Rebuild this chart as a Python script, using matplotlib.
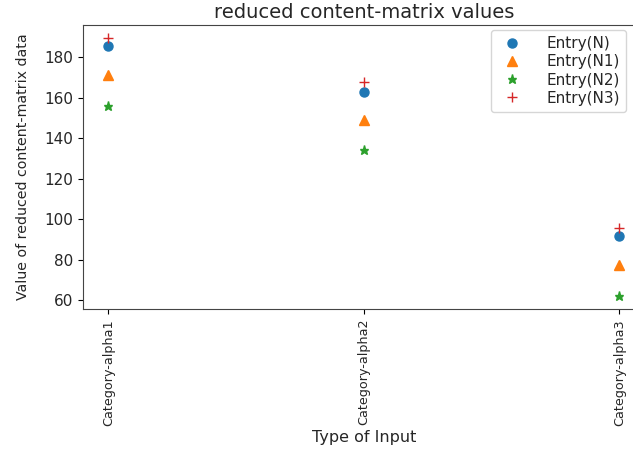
import matplotlib
matplotlib.use("Agg")
import matplotlib.pyplot as plt

categories = ["Category-alpha1", "Category-alpha2", "Category-alpha3"]
entry_n = [185.4, 162.7, 91.6]
entry_n1 = [171.0, 149.0, 77.3]
entry_n2 = [156.0, 134.0, 62.0]
entry_n3 = [189.4, 167.6, 95.6]

series = [
    ("Entry(N)", entry_n, "o"),
    ("Entry(N1)", entry_n1, "^"),
    ("Entry(N2)", entry_n2, "*"),
    ("Entry(N3)", entry_n3, "+"),
]

plt.rcParams["text.color"] = "#262626"
plt.rcParams["axes.labelcolor"] = "#262626"
plt.rcParams["xtick.labelcolor"] = "#262626"
plt.rcParams["ytick.labelcolor"] = "#262626"

fig = plt.figure(figsize=(6.33, 4.54), dpi=100)
ax = fig.add_axes([0.131, 0.319, 0.888, 0.626])

for label, values, marker in series:
    ax.plot(categories, values, linestyle="none", marker=marker,
            markersize=6.5, label=label)

for spine in ax.spines.values():
    spine.set_color("#444444")

ax.set_title("reduced content-matrix values", fontsize=14, pad=5)
ax.set_xlabel("Type of Input", fontsize=11.5, labelpad=3)
ax.set_ylabel("Value of reduced content-matrix data", fontsize=10.2,
              labelpad=10)
ax.tick_params(axis="x", labelrotation=90, labelsize=9.2)
ax.tick_params(axis="y", labelsize=11)
ax.legend(loc="upper right", fontsize=11, labelspacing=0.2,
          handletextpad=1.2, borderaxespad=0.35,
          bbox_to_anchor=(0.975, 1.0))

fig.savefig("out.png", dpi=100)
